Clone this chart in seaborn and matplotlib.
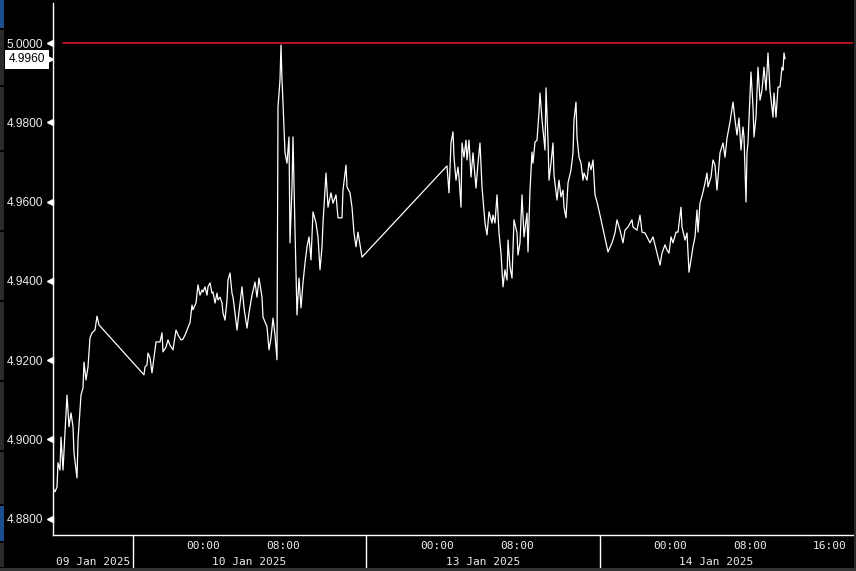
import numpy as np
import pandas as pd
import matplotlib
matplotlib.use("Agg")
import matplotlib.pyplot as plt
import matplotlib.transforms as mtransforms
from matplotlib.patches import Rectangle
import seaborn as sns

# x = trading hours since the left edge of the chart (gaps collapsed), y = yield (%)
jan09_hours = [0.1, 0.2, 0.4, 0.5, 0.7, 0.8, 1.0, 1.2, 1.4, 1.6, 1.8, 2.0, 2.1, 2.4, 2.5,
               2.8, 3.0, 3.1, 3.3, 3.5, 3.7, 3.9, 4.2, 4.4, 4.6]
jan09_yield = [4.8873, 4.8868, 4.8880, 4.8941, 4.8923, 4.9006, 4.8923, 4.9016, 4.9112, 4.9032,
               4.9067, 4.9032, 4.8966, 4.8903, 4.8999, 4.9112, 4.9130, 4.9195, 4.9150, 4.9183,
               4.9256, 4.9269, 4.9276, 4.9311, 4.9289]

jan10_hours = [9.1, 9.2, 9.4, 9.5, 9.7, 9.9, 10.0, 10.3, 10.7, 10.9, 11.0, 11.3, 11.5, 11.7, 12.0,
               12.3, 12.5, 12.8, 13.0, 13.3, 13.6, 13.7, 13.9, 14.0, 14.3, 14.5, 14.7, 14.9, 15.0,
               15.2, 15.4, 15.5, 15.7, 15.9, 16.0, 16.2, 16.4, 16.5, 16.7, 16.9, 17.0, 17.2, 17.4,
               17.5, 17.7, 17.9, 18.0, 18.2, 18.4, 18.6, 18.9, 19.1, 19.4, 19.6, 19.9, 20.2, 20.4,
               20.6, 20.9, 21.0, 21.4, 21.6, 21.8, 22.0, 22.2, 22.4, 22.5, 22.7, 22.8, 22.9, 23.0,
               23.2, 23.4, 23.6, 23.7, 23.9, 24.0, 24.2, 24.4, 24.6, 24.8, 25.0, 25.2, 25.4, 25.6,
               25.8, 26.0, 26.3, 26.5, 26.7, 26.9, 27.0, 27.2, 27.3, 27.5, 27.8, 28.0, 28.3, 28.5,
               28.9, 29.0, 29.3, 29.4, 29.7, 29.9, 30.1, 30.3, 30.5, 30.9]
jan10_yield = [4.9163, 4.9183, 4.9188, 4.9218, 4.9206, 4.9168, 4.9188, 4.9246, 4.9246, 4.9269,
               4.9221, 4.9233, 4.9251, 4.9238, 4.9226, 4.9276, 4.9264, 4.9251, 4.9253, 4.9269,
               4.9289, 4.9294, 4.9339, 4.9327, 4.9344, 4.9390, 4.9364, 4.9377, 4.9372, 4.9385,
               4.9364, 4.9385, 4.9395, 4.9369, 4.9372, 4.9344, 4.9369, 4.9352, 4.9359, 4.9344,
               4.9319, 4.9301, 4.9352, 4.9402, 4.9420, 4.9369, 4.9359, 4.9319, 4.9276, 4.9322,
               4.9385, 4.9332, 4.9281, 4.9319, 4.9364, 4.9397, 4.9359, 4.9407, 4.9359, 4.9309,
               4.9284, 4.9226, 4.9256, 4.9306, 4.9264, 4.9201, 4.9839, 4.9907, 4.9995, 4.9907,
               4.9849, 4.9723, 4.9697, 4.9763, 4.9496, 4.9637, 4.9763, 4.9528, 4.9314, 4.9407,
               4.9332, 4.9395, 4.9445, 4.9486, 4.9511, 4.9453, 4.9574, 4.9546, 4.9511, 4.9428,
               4.9486, 4.9546, 4.9629, 4.9672, 4.9586, 4.9622, 4.9596, 4.9617, 4.9559, 4.9559,
               4.9629, 4.9692, 4.9637, 4.9622, 4.9586, 4.9521, 4.9486, 4.9523, 4.9460]

jan13_hours = [39.4, 39.6, 39.8, 40.0, 40.1, 40.3, 40.5, 40.6, 40.8, 40.9, 41.1, 41.3, 41.4, 41.6,
               41.8, 42.0, 42.3, 42.5, 42.7, 42.9, 43.2, 43.4, 43.6, 43.9, 44.0, 44.2, 44.4, 44.6,
               44.8, 45.0, 45.2, 45.4, 45.5, 45.7, 45.9, 46.1, 46.4, 46.5, 46.7, 46.9, 47.1, 47.4,
               47.5, 47.7, 47.9, 48.0, 48.2, 48.4, 48.6, 48.7, 48.9, 49.0, 49.2, 49.3, 49.5, 49.6,
               49.8, 50.0, 50.1, 50.4, 50.6, 50.8, 51.0, 51.1, 51.3, 51.5, 51.8, 52.0, 52.1, 52.3,
               52.4, 52.6, 52.8, 53.0, 53.1, 53.4, 53.6, 53.8, 54.0, 54.2, 54.4, 54.7]
jan13_yield = [4.9690, 4.9622, 4.9748, 4.9776, 4.9712, 4.9654, 4.9687, 4.9662, 4.9586, 4.9748,
               4.9712, 4.9755, 4.9705, 4.9755, 4.9662, 4.9723, 4.9634, 4.9697, 4.9748, 4.9637,
               4.9546, 4.9516, 4.9574, 4.9546, 4.9566, 4.9546, 4.9617, 4.9521, 4.9470, 4.9385,
               4.9428, 4.9402, 4.9503, 4.9435, 4.9407, 4.9554, 4.9521, 4.9465, 4.9496, 4.9617,
               4.9511, 4.9571, 4.9473, 4.9629, 4.9725, 4.9697, 4.9750, 4.9755, 4.9826, 4.9874,
               4.9806, 4.9781, 4.9730, 4.9887, 4.9755, 4.9654, 4.9697, 4.9748, 4.9667, 4.9604,
               4.9654, 4.9612, 4.9629, 4.9586, 4.9559, 4.9647, 4.9680, 4.9723, 4.9806, 4.9851,
               4.9763, 4.9712, 4.9697, 4.9654, 4.9672, 4.9654, 4.9700, 4.9680, 4.9705, 4.9617,
               4.9599, 4.9566]

jan14_hours = [55.5, 55.9, 56.2, 56.4, 56.7, 57.0, 57.2, 57.5, 57.9, 58.0, 58.4, 58.7, 58.9, 59.2,
               59.4, 59.7, 60.0, 60.4, 60.7, 60.9, 61.2, 61.4, 61.6, 61.8, 62.0, 62.3, 62.5, 62.8,
               62.9, 63.2, 63.4, 63.6, 63.8, 64.0, 64.2, 64.4, 64.5, 64.7, 65.0, 65.2, 65.4, 65.5,
               65.8, 66.0, 66.2, 66.4, 66.7, 67.0, 67.2, 67.4, 67.7, 68.0, 68.2, 68.4, 68.6, 68.8,
               69.0, 69.1, 69.3, 69.4, 69.5, 69.8, 70.0, 70.1, 70.3, 70.5, 70.7, 70.9, 71.1, 71.3,
               71.5, 71.7, 72.0, 72.1, 72.3, 72.5, 72.7, 72.9, 73.0, 73.1, 73.2]
jan14_yield = [4.9473, 4.9496, 4.9521, 4.9554, 4.9528, 4.9496, 4.9528, 4.9536, 4.9554, 4.9536,
               4.9528, 4.9566, 4.9523, 4.9521, 4.9511, 4.9496, 4.9511, 4.9470, 4.9440, 4.9470,
               4.9491, 4.9478, 4.9470, 4.9511, 4.9496, 4.9523, 4.9523, 4.9586, 4.9536, 4.9503,
               4.9521, 4.9422, 4.9453, 4.9486, 4.9511, 4.9579, 4.9523, 4.9596, 4.9624, 4.9647,
               4.9672, 4.9637, 4.9662, 4.9705, 4.9692, 4.9629, 4.9723, 4.9748, 4.9712, 4.9760,
               4.9801, 4.9851, 4.9806, 4.9768, 4.9811, 4.9730, 4.9788, 4.9763, 4.9599, 4.9723,
               4.9748, 4.9927, 4.9839, 4.9763, 4.9813, 4.9939, 4.9856, 4.9881, 4.9939, 4.9881,
               4.9975, 4.9881, 4.9813, 4.9874, 4.9813, 4.9889, 4.9889, 4.9939, 4.9932, 4.9975,
               4.9960]

alert_level = 5.0
ytick_values = [4.88, 4.90, 4.92, 4.94, 4.96, 4.98, 5.00]

# session boundaries (trading hours) and axis labels
session_edges = [0.0, 8.0, 31.3, 54.7, 78.0]
day_labels = ["09 Jan 2025", "10 Jan 2025", "13 Jan 2025", "14 Jan 2025"]
time_ticks = [15.0, 23.0, 38.4, 46.4, 61.7, 69.7, 77.7]
time_labels = ["00:00", "08:00", "00:00", "08:00", "00:00", "08:00", "16:00"]
minor_time_ticks = [3.6, 11.0, 19.0, 27.0, 34.4, 42.4, 50.4, 57.7, 65.7, 73.7]

df = pd.DataFrame({
    "hours": jan09_hours + jan10_hours + jan13_hours + jan14_hours,
    "yield": jan09_yield + jan10_yield + jan13_yield + jan14_yield,
})

sns.set_style("dark", {"axes.facecolor": "black", "figure.facecolor": "black"})
plt.rcParams["font.family"] = ["DejaVu Sans Mono"]
txt = "#ececec"
yfont = "Liberation Sans"

fig = plt.figure(figsize=(8.56, 5.71), dpi=100)
ax = fig.add_axes([53 / 856, 36 / 571, 800 / 856, 532 / 571])

sns.lineplot(data=df, x="hours", y="yield", ax=ax, color="white", lw=0.9,
             sort=False, estimator=None)

ax.set_xlim(0, 80)
ax.set_ylim(4.8759, 5.0101)
ax.axhline(alert_level, xmin=0.0125, color="#e8192c", lw=1.1)
ax.set_xlabel("")
ax.set_ylabel("")
ax.grid(False)

for s in ["top", "right"]:
    ax.spines[s].set_visible(False)
for s in ["left", "bottom"]:
    ax.spines[s].set_color("white")
    ax.spines[s].set_linewidth(1.0)

# y axis: labels with little pointers, minor ticks in between
ax.set_yticks(ytick_values)
ax.set_yticklabels([f"{v:.4f}" for v in ytick_values], family=yfont)
ax.set_yticks([v + 0.01 for v in ytick_values[:-1]], minor=True)
ax.tick_params(axis="y", which="major", length=0, pad=7, labelsize=8.6, labelcolor=txt)
ax.tick_params(axis="y", which="minor", length=3, width=1, color="white", direction="out")

ptr = mtransforms.offset_copy(ax.get_yaxis_transform(), fig=fig, x=-3.5, y=0, units="dots")
ax.plot(np.zeros(len(ytick_values)), ytick_values, ls="none", marker="<", ms=4.5,
        color="white", transform=ptr, clip_on=False)

# x axis: times, day separators, day names
ax.set_xticks(time_ticks)
ax.set_xticklabels(time_labels)
ax.set_xticks(minor_time_ticks, minor=True)
ax.tick_params(axis="x", which="major", length=0, pad=4, labelsize=8, labelcolor=txt)
ax.tick_params(axis="x", which="minor", length=3, width=1, color="white", direction="out")

ax.vlines(session_edges[1:-1], -0.062, 0, transform=ax.get_xaxis_transform(),
          colors="white", lw=1, clip_on=False)
for a, b, lab in zip(session_edges[:-1], session_edges[1:], day_labels):
    ax.text((a + b) / 2, -0.051, lab, transform=ax.get_xaxis_transform(),
            ha="center", va="center", fontsize=8, color=txt)

# last price tag
last_yield = jan14_yield[-1]
ax.annotate(f"{last_yield:.4f}", xy=(0, last_yield), xycoords=ax.get_yaxis_transform(),
            xytext=(-8, -0.5), textcoords="offset pixels", ha="right", va="center",
            fontsize=8.6, family=yfont, color="black", annotation_clip=False,
            bbox=dict(boxstyle="square,pad=0.3", fc="white", ec="none"))
tag = mtransforms.offset_copy(ax.get_yaxis_transform(), fig=fig, x=-4, y=-0.5, units="dots")
ax.plot([0], [last_yield], marker=">", ms=6, color="white", transform=tag, clip_on=False)

# terminal frame decoration
def frame_rect(x, y, w, h, color):
    fig.patches.append(Rectangle((x / 856, 1 - (y + h) / 571), w / 856, h / 571,
                                 transform=fig.transFigure, fc=color, ec="none"))

frame_rect(0, 0, 4, 28, "#1d4f8e")
for y0, y1 in [(30, 85), (87, 150), (152, 230), (232, 300), (302, 380), (382, 450), (452, 504)]:
    frame_rect(0, y0, 4, y1 - y0, "#2a2a2a")
frame_rect(0, 506, 4, 35, "#1d4f8e")
frame_rect(0, 543, 4, 24, "#2a2a2a")
frame_rect(0, 568, 856, 3, "#333333")
frame_rect(854, 0, 2, 568, "#2a2a2a")

fig.savefig("out.png", dpi=100, facecolor="black")
